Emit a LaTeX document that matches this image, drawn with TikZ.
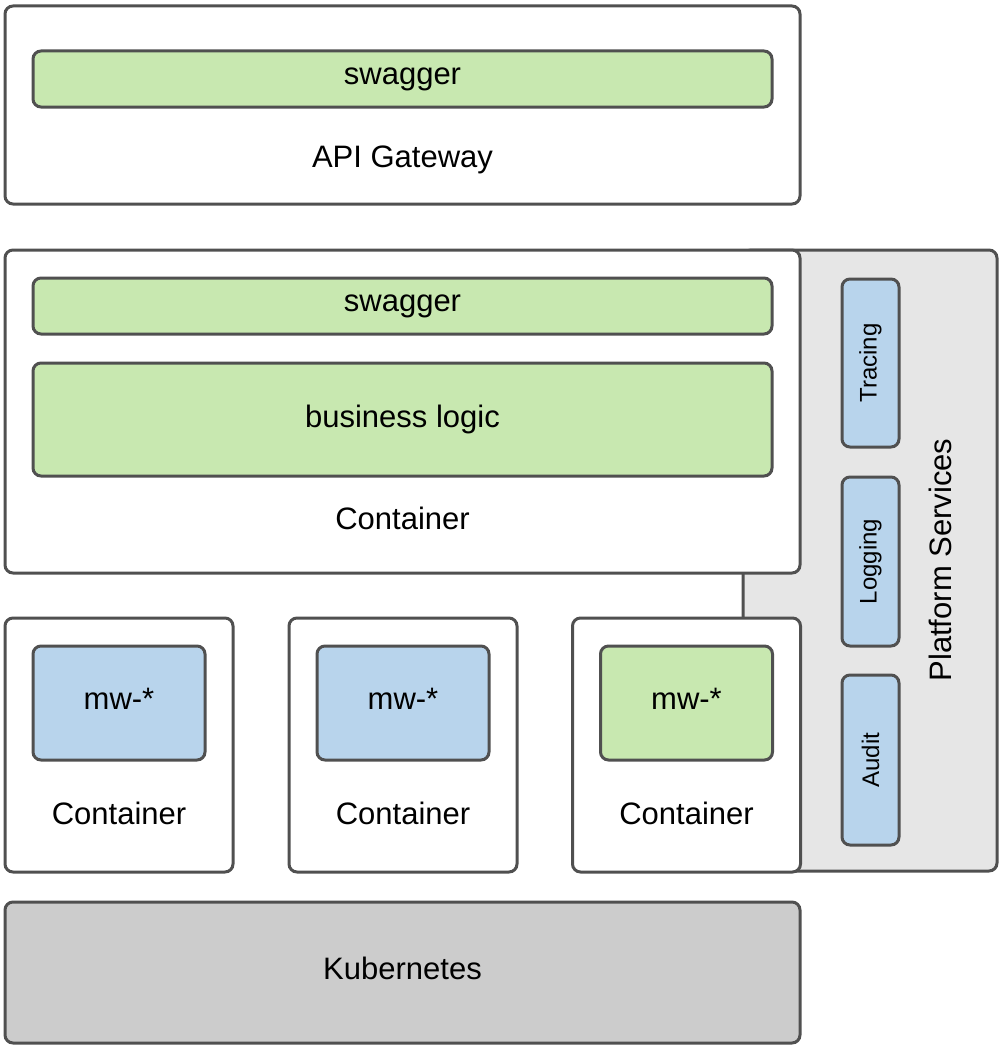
\documentclass[tikz,border=0pt]{standalone}
\usepackage{fontspec}
\setmainfont{Liberation Sans}
\usepackage{tikz}
\usepackage{xcolor}
\usetikzlibrary{positioning}
\tikzset{%
  box/.style={draw=edgegray,line width=3pt,rounded corners=8pt,inner sep=0pt},
  holder/.style={box,fill=white},
  swag/.style={box,fill=mygreen},
  svc/.style={box,fill=myblue},
  label/.style={font=\fontsize{31}{36}\selectfont},
  small/.style={font=\fontsize{24}{28}\selectfont,rotate=90},
}
\definecolor{edgegray}{HTML}{505050}
\definecolor{mygreen}{HTML}{C8E8B0}
\definecolor{myblue}{HTML}{B8D4EC}
\definecolor{mylight}{HTML}{E6E6E6}
\definecolor{mygray}{HTML}{CCCCCC}
\begin{document}
\begin{tikzpicture}[x=1pt,y=-1pt]
      \useasboundingbox (0,0) rectangle (1004,1049);

      \node[holder,minimum width=795pt,minimum height=198pt] (node_api) at (402.5,105) {};
      \node[swag,minimum width=739pt,minimum height=56pt,label] (node_api_swagger) at (402.5,79) {swagger};
      \node[label] (node_api_label) at (402.5,160) {API Gateway};

      \node[box,fill=mylight,minimum width=254pt,minimum height=621pt] (node_platform) at (870,560.5) {};

      \node[holder,minimum width=795pt,minimum height=323pt] (node_main) at (402.5,411.5) {};
      \node[swag,minimum width=739pt,minimum height=56pt,label] (node_swagger) at (402.5,306) {swagger};
      \node[swag,minimum width=739pt,minimum height=113pt,label] (node_logic) at (402.5,419.5) {business logic};
      \node[label] (node_main_label) at (402.5,518) {Container};

      \node[svc,minimum width=57pt,minimum height=168pt] (node_tracing) at (870.5,363) {};
      \node[svc,minimum width=57pt,minimum height=169pt] (node_logging) at (870.5,561.5) {};
      \node[svc,minimum width=57pt,minimum height=170pt] (node_audit) at (870.5,760) {};
      \node[small] at (node_tracing) {Tracing};
      \node[small] at (node_logging) {Logging};
      \node[small] at (node_audit) {Audit};
      \node[label,rotate=90] (node_platform_label) at (940,560) {Platform Services};

      \node[holder,minimum width=228pt,minimum height=254pt] (node_c1) at (119,745) {};
      \node[holder,minimum width=228pt,minimum height=254pt] (node_c2) at (403,745) {};
      \node[holder,minimum width=228pt,minimum height=254pt] (node_c3) at (686.5,745) {};

      \node[svc,minimum width=172pt,minimum height=114pt] (node_mw1) at (119,703) {};
      \node[svc,minimum width=172pt,minimum height=114pt] (node_mw2) at (403,703) {};
      \node[swag,minimum width=172pt,minimum height=114pt] (node_mw3) at (686.5,703) {};
      \node[label] at (119,699) {mw-*};
      \node[label] at (403,699) {mw-*};
      \node[label] at (686.5,699) {mw-*};

      \node[label] (node_c1_label) at (119,813) {Container};
      \node[label] (node_c2_label) at (403,813) {Container};
      \node[label] (node_c3_label) at (686.5,813) {Container};

      \node[box,fill=mygray,minimum width=795pt,minimum height=141pt] (node_kube) at (402.5,972.5) {};
      \node[label] (node_kube_label) at (402.5,968) {Kubernetes};
    \end{tikzpicture}
\end{document}
